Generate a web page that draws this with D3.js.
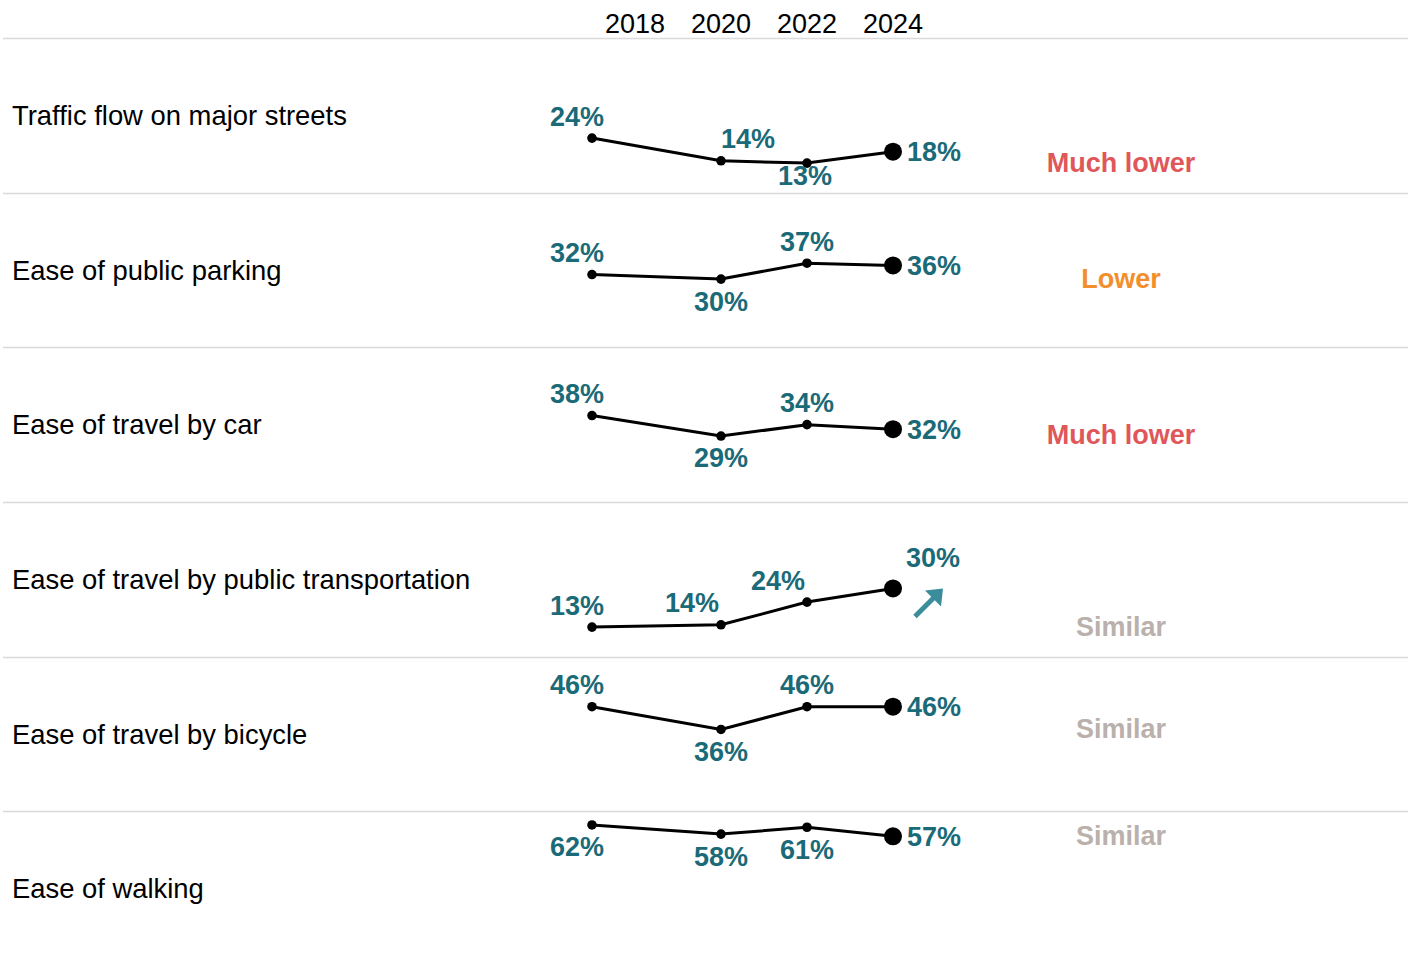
<!DOCTYPE html>
<html>
<head>
<meta charset="utf-8">
<script src="https://cdn.jsdelivr.net/npm/d3@7"></script>
<style>
  html, body { margin: 0; padding: 0; background: #fff; }
  svg text { font-family: "Liberation Sans", Arial, sans-serif; }
</style>
</head>
<body>
<div id="chart"></div>
<script>
// Chart data
const categories = [
    "Traffic flow on major streets",
    "Ease of public parking",
    "Ease of travel by car",
    "Ease of travel by public transportation",
    "Ease of travel by bicycle",
    "Ease of walking"
];
const years = [2018, 2020, 2022, 2024];

const trafficFlow = [24, 14, 13, 18];
const publicParking = [32, 30, 37, 36];
const travelByCar = [38, 29, 34, 32];
const publicTransport = [13, 14, 24, 30];
const travelByBicycle = [46, 36, 46, 46];
const walking = [62, 58, 61, 57];
const seriesValues = [trafficFlow, publicParking, travelByCar, publicTransport, travelByBicycle, walking];

// where each value label goes relative to its point (a = above, b = below, r = right ...)
const labelPlacement = [
    ["a", "ar", "bn", "r"],
    ["a", "b", "a", "r"],
    ["a", "b", "a", "r"],
    ["a", "al", "al", "ur"],
    ["a", "b", "a", "r"],
    ["b", "b", "b", "r"]
];

const comparison = ["Much lower", "Lower", "Much lower", "Similar", "Similar", "Similar"];
const trend = [null, null, null, "up", null, null];

const comparisonColor = {
    "Much lower": "#e0575b",
    "Lower": "#f28e2b",
    "Similar": "#bab0ac"
};

// Layout
const width = 1413, height = 959;
const fontSize = 27;
const valueColor = "#1b6a78";

const svg = d3.select("#chart")
    .append("svg")
    .attr("width", width)
    .attr("height", height);

const x = d3.scaleLinear()
    .domain([2018, 2020, 2024])
    .range([592, 721, 893]);

const headerX = d3.scalePoint()
    .domain(years)
    .range([635, 893]);

const rowBand = d3.scaleBand()
    .domain(categories)
    .range([38, 966]);

const rowH = rowBand.bandwidth();

// Year header
svg.selectAll(".year")
    .data(years)
    .enter().append("text")
    .attr("class", "year")
    .attr("x", d => headerX(d))
    .attr("y", 33)
    .attr("text-anchor", "middle")
    .style("font-size", fontSize + "px")
    .style("fill", "#000")
    .text(d => d);

// Row separators
svg.selectAll(".sep")
    .data(categories)
    .enter().append("line")
    .attr("class", "sep")
    .attr("x1", 3)
    .attr("x2", 1408)
    .attr("y1", d => Math.round(rowBand(d)) + 0.5)
    .attr("y2", d => Math.round(rowBand(d)) + 0.5)
    .style("stroke", "#dadada")
    .style("stroke-width", 1.5);

// Offsets for value labels
const offsets = {
    a: { dx: 0, dy: -22, anchor: "middle" },
    b: { dx: 0, dy: 22, anchor: "middle" },
    bn: { dx: -2, dy: 12, anchor: "middle" },
    r: { dx: 14, dy: 0, anchor: "start" },
    ar: { dx: 27, dy: -22, anchor: "middle" },
    al: { dx: -29, dy: -22, anchor: "middle" },
    ur: { dx: 40, dy: -31, anchor: "middle" }
};

const line = d3.line();

categories.forEach((cat, i) => {
    const top = rowBand(cat);
    const y = d3.scaleLinear().domain([0, 68]).range([top + rowH, top]);
    const vals = seriesValues[i];
    const g = svg.append("g").attr("class", "row");

    // Category label
    g.append("text")
        .attr("x", 12)
        .attr("y", top + rowH / 2)
        .attr("dy", "0.35em")
        .style("font-size", "27.4px")
        .style("fill", "#000")
        .text(cat);

    const pts = years.map((yr, j) => ({ year: yr, value: vals[j], place: labelPlacement[i][j], last: j === years.length - 1 }));

    g.append("path")
        .attr("d", line(pts.map(p => [x(p.year), y(p.value)])))
        .style("fill", "none")
        .style("stroke", "#000")
        .style("stroke-width", 3);

    g.selectAll("circle")
        .data(pts)
        .enter().append("circle")
        .attr("cx", d => x(d.year))
        .attr("cy", d => y(d.value))
        .attr("r", d => d.last ? 9 : 4.8)
        .style("fill", "#000");

    g.selectAll(".val")
        .data(pts)
        .enter().append("text")
        .attr("class", "val")
        .attr("x", d => x(d.year) + offsets[d.place].dx + (d.year === 2018 ? -15 : 0))
        .attr("y", d => y(d.value) + offsets[d.place].dy)
        .attr("dy", "0.35em")
        .attr("text-anchor", d => offsets[d.place].anchor)
        .style("font-size", fontSize + "px")
        .style("font-weight", "bold")
        .style("fill", valueColor)
        .text(d => d.value + "%");

    // Comparison label, level with the lowest point of the row
    g.append("text")
        .attr("x", 1121)
        .attr("y", y(d3.min(vals)) - 1)
        .attr("dy", "0.35em")
        .attr("text-anchor", "middle")
        .style("font-size", fontSize + "px")
        .style("font-weight", "bold")
        .style("fill", comparisonColor[comparison[i]])
        .text(comparison[i]);

    // Trend arrow
    if (trend[i] === "up") {
        const ax = x(2024) + 20, ay = y(vals[vals.length - 1]) + 28;
        const arrow = g.append("g").attr("transform", `translate(${ax},${ay})`);
        arrow.append("line")
            .attr("x1", 2).attr("y1", 0)
            .attr("x2", 22).attr("y2", -20)
            .style("stroke", "#3b8d9c")
            .style("stroke-width", 5);
        arrow.append("path")
            .attr("d", "M12,-26 L30,-28 L28,-10 Z")
            .style("fill", "#3b8d9c");
    }
});
</script>
</body>
</html>
